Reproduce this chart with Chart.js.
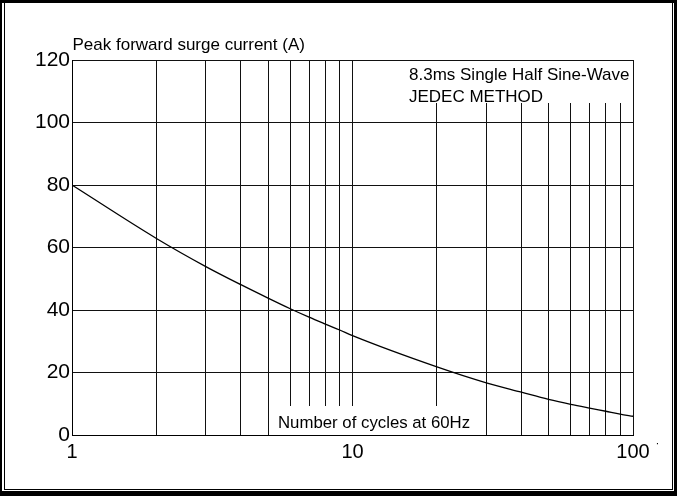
<!DOCTYPE html>
<html>
<head>
<meta charset="utf-8">
<script src="https://cdn.jsdelivr.net/npm/chart.js@4/dist/chart.umd.min.js"></script>
<style>
  html, body { margin: 0; padding: 0; background: #fff; }
  #wrap { position: relative; width: 677px; height: 496px; }
  #chart { position: absolute; left: 0; top: 0; }
  .frame { position: absolute; box-sizing: border-box; pointer-events: none; }
  #outer { left: 0; top: 0; width: 677px; height: 496px;
           border-style: solid; border-color: #000;
           border-width: 3px 3px 5px 2px; }
  #inner { left: 4px; top: 2px; width: 669px; height: 488px;
           border-style: solid; border-color: #000;
           border-width: 0 1px 1px 1px; }
</style>
</head>
<body>
<div id="wrap">
  <canvas id="chart" width="677" height="496"></canvas>
  <div id="outer" class="frame"></div>
  <div id="inner" class="frame"></div>
</div>
<script>
// Surge rating: peak forward surge current vs. number of cycles at 60 Hz
const cycles  = [1, 2, 3, 4, 5, 6, 7, 8, 9, 10, 20, 30, 40, 50, 60, 70, 80, 90, 100];
const current = [80, 62.9, 53.9, 48.1, 43.8, 40.4, 37.7, 35.5, 33.6, 31.8, 21.8, 16.7, 13.7, 11.4, 9.8, 8.6, 7.6, 6.7, 6.0];

// log grid positions (one line per integer multiple of each decade)
const xGridValues = [1, 2, 3, 4, 5, 6, 7, 8, 9, 10, 20, 30, 40, 50, 60, 70, 80, 90, 100];
const xTickLabels = [1, 10, 100];
const yTickValues = [0, 20, 40, 60, 80, 100, 120];

const yAxisTitle = 'Peak forward surge current (A)';
const xAxisTitle = 'Number of cycles at 60Hz';
const noteLines  = ['8.3ms Single Half Sine-Wave', 'JEDEC METHOD'];

const FONT = '"Liberation Sans", Arial, sans-serif';
const INK = '#000';
const GRID = '#111';

// Annotation texts sit on white patches that interrupt the grid behind them
const annotations = {
  id: 'annotations',
  beforeDatasetsDraw(chart) {
    const { ctx, chartArea: a } = chart;
    ctx.save();
    ctx.fillStyle = '#fff';
    // note block in the upper right
    ctx.fillRect(404, a.top + 1, a.right - 405, 42);
    // x-axis title block inside the plot
    ctx.fillRect(273, 406, 198, a.bottom - 406);
    ctx.fillStyle = INK;
    ctx.font = '17px ' + FONT;
    ctx.textBaseline = 'alphabetic';
    ctx.textAlign = 'left';
    ctx.fillText(noteLines[0], 409, 79.5);
    ctx.fillText(noteLines[1], 409, 101.5);
    ctx.font = '16.8px ' + FONT;
    ctx.fillText(xAxisTitle, 278, 428);
    ctx.restore();
  },
  afterDraw(chart) {
    const { ctx, chartArea: a } = chart;
    ctx.save();
    ctx.fillStyle = INK;
    ctx.font = '17px ' + FONT;
    ctx.textBaseline = 'alphabetic';
    ctx.textAlign = 'left';
    ctx.fillText(yAxisTitle, a.left + 0.5, 49.5);
    ctx.font = '12px ' + FONT;
    ctx.fillText('\u02D9', 656, 452);
    ctx.restore();
  }
};

new Chart(document.getElementById('chart'), {
  type: 'line',
  data: {
    datasets: [{
      data: cycles.map((c, i) => ({ x: c, y: current[i] })),
      borderColor: INK,
      borderWidth: 1.3,
      pointRadius: 0,
      fill: false,
      cubicInterpolationMode: 'monotone'
    }]
  },
  options: {
    responsive: false,
    animation: false,
    devicePixelRatio: 1,
    layout: { padding: { left: 0, right: 44, top: 60, bottom: 0 } },
    plugins: { legend: { display: false }, tooltip: { enabled: false } },
    scales: {
      x: {
        type: 'logarithmic',
        min: 1,
        max: 100,
        afterBuildTicks(axis) { axis.ticks = xGridValues.map(v => ({ value: v })); },
        afterFit(axis) { axis.height = 61; },
        grid: { color: GRID, lineWidth: 1, drawTicks: false },
        border: { color: INK, width: 1 },
        ticks: {
          autoSkip: false,
          maxRotation: 0,
          padding: 5,
          color: INK,
          font: { family: FONT, size: 20 },
          callback: v => xTickLabels.includes(v) ? String(v) : ''
        }
      },
      y: {
        min: 0,
        max: 120,
        afterBuildTicks(axis) { axis.ticks = yTickValues.map(v => ({ value: v })); },
        afterFit(axis) { axis.width = 72; },
        grid: { color: GRID, lineWidth: 1, drawTicks: false },
        border: { color: INK, width: 1 },
        ticks: {
          padding: 2,
          color: INK,
          font: { family: FONT, size: 21 }
        }
      }
    }
  },
  plugins: [annotations]
});
</script>
</body>
</html>
